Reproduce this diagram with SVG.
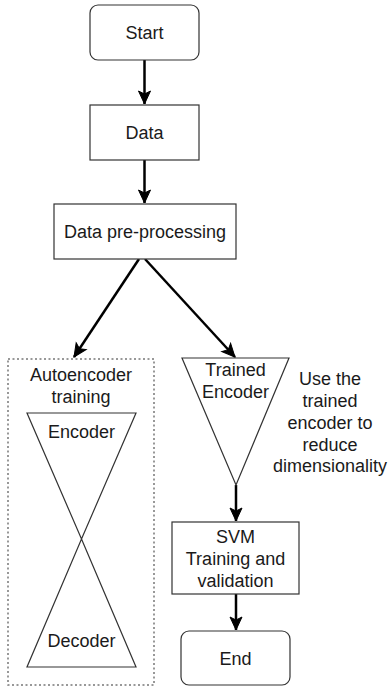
<svg xmlns="http://www.w3.org/2000/svg" width="389" height="687" viewBox="0 0 389 687">
  <style>
    .box { fill: #ffffff; stroke: #333333; stroke-width: 1.2; }
    .tri { fill: #ffffff; stroke: #333333; stroke-width: 1.2; }
    .group { fill: none; stroke: #777777; stroke-width: 1.5; stroke-dasharray: 2 2.5; }
    .lbl { font-family: "Liberation Sans", Arial, sans-serif; font-size: 18px; fill: #1a1a1a; text-anchor: middle; }
    .edge { fill: none; stroke: #000000; stroke-width: 2.5; }
  </style>
  <defs>
    <marker id="arrow" markerUnits="userSpaceOnUse" markerWidth="16" markerHeight="16" viewBox="0 0 16 16" refX="14" refY="8" orient="auto">
      <path d="M1,2 L14,8 L1,14 L4,8 z" fill="#000000" stroke="#000000" stroke-width="1" stroke-linejoin="miter"/>
    </marker>
  </defs>
  <rect width="389" height="687" fill="#ffffff"/>

  <g id="connectors">
    <line class="edge" x1="144.5" y1="60" x2="144.5" y2="104" marker-end="url(#arrow)"/>
    <line class="edge" x1="144.5" y1="160" x2="144.5" y2="203" marker-end="url(#arrow)"/>
    <line class="edge" x1="139" y1="259" x2="74" y2="357" marker-end="url(#arrow)"/>
    <line class="edge" x1="145" y1="259" x2="235" y2="357" marker-end="url(#arrow)"/>
    <line class="edge" x1="236" y1="485" x2="236" y2="521" marker-end="url(#arrow)"/>
    <line class="edge" x1="236" y1="594" x2="236" y2="630" marker-end="url(#arrow)"/>
  </g>

  <g id="start">
    <rect class="box" x="90" y="5" width="109" height="55" rx="8" ry="8"/>
    <text class="lbl" x="144.5" y="39">Start</text>
  </g>

  <g id="data">
    <rect class="box" x="90" y="105" width="109" height="55"/>
    <text class="lbl" x="144.5" y="139">Data</text>
  </g>

  <g id="preprocessing">
    <rect class="box" x="54" y="204" width="182" height="55"/>
    <text class="lbl" x="145" y="238">Data pre-processing</text>
  </g>

  <g id="autoencoder-training">
    <rect class="group" x="8" y="359" width="146" height="326"/>
    <text class="lbl" x="81" y="381">Autoencoder</text>
    <text class="lbl" x="81" y="403">training</text>
  </g>

  <g id="encoder">
    <polygon class="tri" points="27,413 136,413 81.5,539"/>
    <text class="lbl" x="81.5" y="438">Encoder</text>
  </g>

  <g id="decoder">
    <polygon class="tri" points="81.5,539 136,667 27,667"/>
    <text class="lbl" x="81.5" y="647">Decoder</text>
  </g>

  <g id="trained-encoder">
    <polygon class="tri" points="182,358 289,358 236,485"/>
    <text class="lbl" x="235.5" y="376">Trained</text>
    <text class="lbl" x="235.5" y="398">Encoder</text>
  </g>

  <g id="note">
    <text class="lbl" x="330" y="385">Use the</text>
    <text class="lbl" x="330" y="407">trained</text>
    <text class="lbl" x="330" y="429">encoder to</text>
    <text class="lbl" x="330" y="451">reduce</text>
    <text class="lbl" x="330" y="472">dimensionality</text>
  </g>

  <g id="svm">
    <rect class="box" x="172" y="522" width="127" height="72"/>
    <text class="lbl" x="235.5" y="543">SVM</text>
    <text class="lbl" x="235.5" y="565">Training and</text>
    <text class="lbl" x="235.5" y="587">validation</text>
  </g>

  <g id="end">
    <rect class="box" x="181" y="631" width="109" height="54" rx="8" ry="8"/>
    <text class="lbl" x="235.5" y="665">End</text>
  </g>
</svg>
